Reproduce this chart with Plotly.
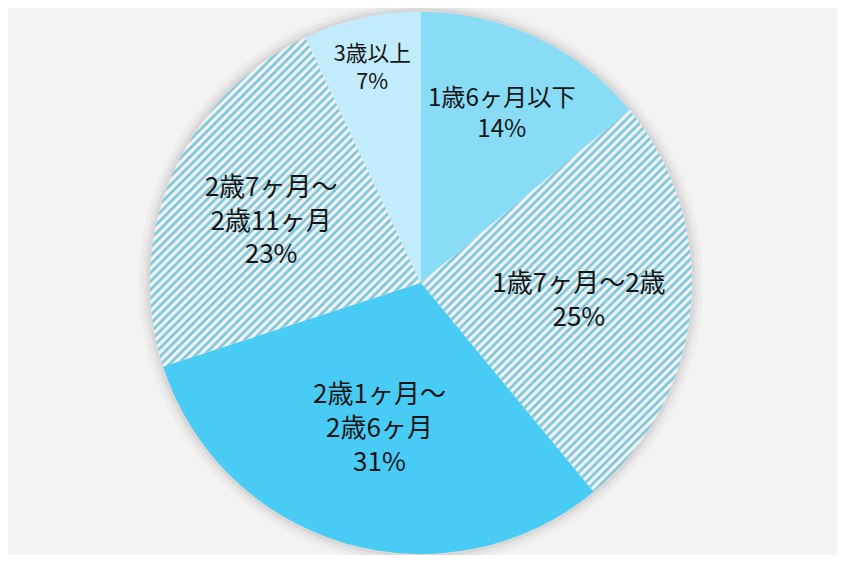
import plotly.graph_objects as go

# age groups, clockwise from 12 o'clock
labels = ['1歳6ヶ月以下', '1歳7ヶ月～2歳', '2歳1ヶ月～<br>2歳6ヶ月', '2歳7ヶ月～<br>2歳11ヶ月', '3歳以上']
shares = [14, 25, 31, 23, 7]

fills = ['#88dcf6', '#dff5fa', '#48cbf4', '#dff5fa', '#c2ecfb']
patterns = ['', '/', '', '/', '']

pie_domain = dict(x=[0.148, 0.848], y=[0.002, 0.993])

fig = go.Figure()

# soft shadow: wide translucent outlines behind the pie
for w, alpha in [(22, 0.025), (14, 0.035), (7, 0.05)]:
    fig.add_trace(go.Pie(
        values=[1],
        marker=dict(colors=['rgba(0,0,0,0)'], line=dict(width=w, color='rgba(0,0,0,%s)' % alpha)),
        domain=pie_domain,
        textinfo='none',
        hoverinfo='skip',
        showlegend=False,
    ))

fig.add_trace(go.Pie(
    labels=labels,
    values=shares,
    sort=False,
    direction='clockwise',
    rotation=0,
    marker=dict(
        colors=fills,
        line=dict(width=0),
        pattern=dict(shape=patterns, fgcolor='#7cc7da', size=6, solidity=0.45),
    ),
    texttemplate='%{label}<br>%{value}%',
    textposition='inside',
    insidetextorientation='horizontal',
    textfont=dict(family='Noto Sans CJK JP', size=26, color='#151515'),
    domain=pie_domain,
    showlegend=False,
))

fig.update_layout(
    width=829,
    height=547,
    margin=dict(l=0, r=0, t=0, b=0),
    paper_bgcolor='#f3f3f3',
    plot_bgcolor='#f3f3f3',
)

fig.write_html('out.html')
